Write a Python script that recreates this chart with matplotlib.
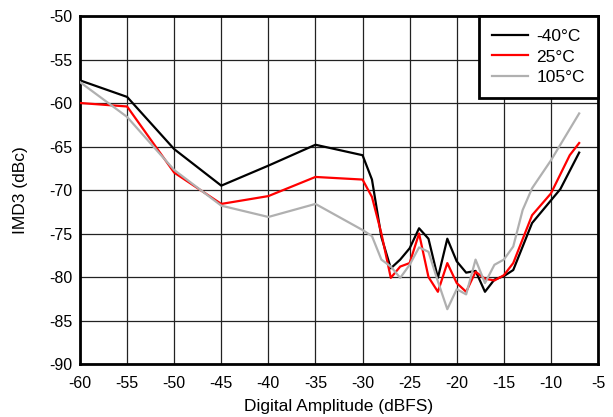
import matplotlib
matplotlib.use("Agg")
import matplotlib.pyplot as plt

plt.rcParams['font.family'] = ['Liberation Sans', 'DejaVu Sans']
plt.rcParams['axes.unicode_minus'] = False

x_m40 = [-60, -55, -50, -45, -40, -35, -30, -29, -28, -27, -26, -25, -24, -23, -22, -21, -20,
         -19, -18, -17, -16, -15, -14, -12, -9, -7]
y_m40 = [-57.4, -59.3, -65.3, -69.5, -67.2, -64.8, -66.0, -68.8, -75.4, -79.0, -78.0, -76.7,
         -74.4, -75.6, -80.1, -75.6, -78.2, -79.5, -79.3, -81.7, -80.3, -79.9, -79.2, -73.8,
         -69.9, -65.7]

x_25 = [-60, -55, -50, -45, -40, -35, -30, -29, -28, -27, -26, -25, -24, -23, -22, -21, -20,
        -19, -18, -17, -16, -15, -14, -12, -10, -8, -7]
y_25 = [-60.0, -60.4, -68.0, -71.6, -70.7, -68.5, -68.8, -70.8, -75.0, -80.1, -78.8, -78.4,
        -75.0, -80.0, -81.7, -78.4, -80.7, -81.7, -79.4, -80.2, -80.4, -79.8, -78.4, -72.9,
        -70.4, -66.0, -64.6]

x_105 = [-60, -55, -50, -45, -40, -35, -30, -29, -28, -27, -26, -25, -24, -23, -22, -21, -20,
         -19, -18, -17, -16, -15, -14, -13, -12, -10, -7]
y_105 = [-57.6, -61.6, -67.7, -71.8, -73.1, -71.6, -74.6, -75.3, -78.0, -78.8, -80.1, -78.6,
         -76.6, -77.1, -80.5, -83.7, -81.4, -82.0, -78.0, -80.7, -78.6, -78.0, -76.5, -72.3,
         -69.8, -66.6, -61.2]

labels = ['-40°C', '25°C', '105°C']
colors = ['#000000', '#ff0000', '#b0b0b0']

x_ticks = list(range(-60, -4, 5))
y_ticks = list(range(-90, -49, 5))

fig = plt.figure(figsize=(6.13, 4.17), dpi=100)
ax = fig.add_axes([80/613, 1-364/417, (598-80)/613, (364-16)/417])

for xs, ys, lab, c in zip([x_m40, x_25, x_105], [y_m40, y_25, y_105], labels, colors):
    ax.plot(xs, ys, color=c, lw=1.6, label=lab, zorder=3)

ax.set_xlim(-60, -5)
ax.set_ylim(-90, -50)
ax.set_xticks(x_ticks)
ax.set_yticks(y_ticks)
ax.grid(True, color='#222222', lw=0.9)
ax.tick_params(length=0, labelsize=11.5)
ax.tick_params(axis='x', pad=8.5)
ax.tick_params(axis='y', pad=5.5)
for s in ax.spines.values():
    s.set_linewidth(2)
ax.set_xlabel('Digital Amplitude (dBFS)', fontsize=12.5)
ax.set_ylabel('IMD3 (dBc)', fontsize=12.5)
ax.xaxis.set_label_coords(0.5, -0.100)
ax.yaxis.set_label_coords(-0.100, 0.5)

leg = ax.legend(loc='upper right', bbox_to_anchor=(1, 1), borderaxespad=0, fontsize=12.5,
                fancybox=False, framealpha=1, edgecolor='black', handlelength=2.07,
                labelspacing=0.3, borderpad=0.75, handletextpad=0.5)
leg.get_frame().set_linewidth(2)

fig.savefig('out.png', dpi=100)
